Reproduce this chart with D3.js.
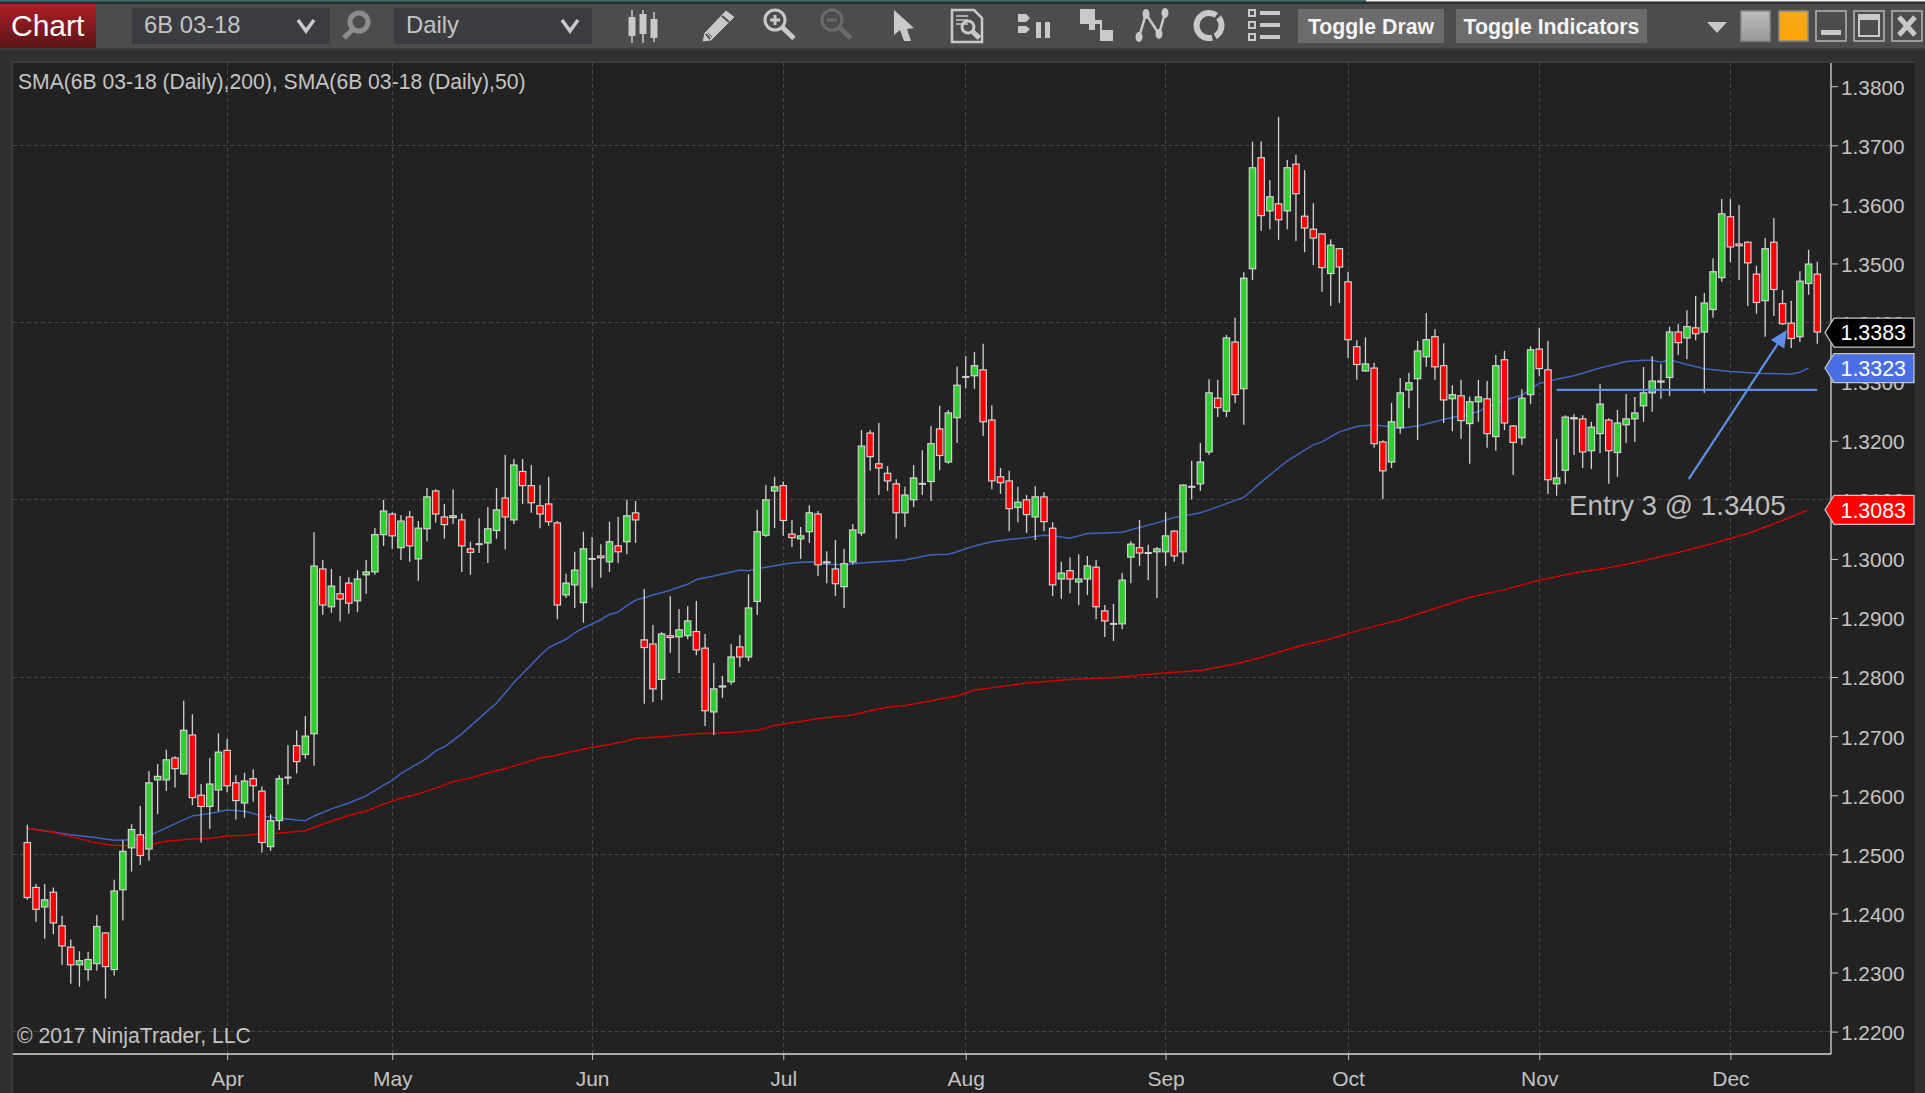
<!DOCTYPE html>
<html><head><meta charset="utf-8">
<style>html,body{margin:0;padding:0;background:#2f2f31;overflow:hidden}svg{display:block}text{font-family:"Liberation Sans",Arial,sans-serif}</style>
<script src="https://cdn.jsdelivr.net/npm/d3@7"></script>
</head><body><svg id="c" width="1925" height="1093"></svg>
<script>
const opens=[1.2521,1.2445,1.2410,1.2437,1.2380,1.2344,1.2312,1.2304,1.2314,1.2368,1.2304,1.2439,1.2510,1.2534,1.2508,1.2625,1.2625,1.2664,1.2635,1.2703,1.2601,1.2580,1.2608,1.2677,1.2622,1.2586,1.2629,1.2608,1.2512,1.2556,1.2630,1.2685,1.2668,1.2703,
1.2984,1.2918,1.2942,1.2960,1.2928,1.2972,1.2977,1.3040,1.3077,1.3018,1.3072,1.2999,1.3050,1.3116,1.3072,1.3069,1.3067,1.3018,1.3025,1.3026,1.3047,1.3104,1.3065,1.3149,1.3125,1.3091,1.3094,1.3062,1.2938,1.2955,1.2925,1.3000,1.3006,1.2994,1.3023,1.3028,1.3079,
1.2864,1.2857,1.2795,1.2871,1.2867,1.2869,1.2878,1.2850,1.2740,1.2786,1.2791,1.2852,1.2833,1.2927,1.3039,1.3114,1.3125,1.3043,1.3033,1.3045,1.3077,1.2996,1.2984,1.2952,1.2994,1.3043,
1.3214,1.3162,1.3146,1.3128,1.3077,1.3099,1.3127,1.3130,1.3221,1.3163,1.3238,1.3308,1.3309,1.3321,1.3236,1.3140,1.3133,1.3086,1.3101,1.3070,1.3106,1.3053,1.2965,1.2981,1.2960,1.2965,1.2987,1.2913,1.2890,1.2889,1.3002,1.3020,1.3010,1.3011,1.3011,1.3048,1.3011,1.3122,
1.3126,1.3180,1.3273,1.3249,1.3368,1.3287,1.3490,1.3680,1.3588,1.3602,1.3588,1.3669,1.3581,1.3559,1.3551,1.3482,1.3526,1.3470,1.3360,1.3317,1.3324,1.3199,1.3163,1.3221,1.3285,1.3304,1.3341,
1.3377,1.3328,1.3270,1.3277,1.3228,1.3265,1.3272,1.3206,1.3338,1.3226,1.3204,1.3277,1.3356,1.3321,1.3126,1.3149,1.3240,1.3238,1.3182,1.3211,1.3236,1.3179,1.3226,1.3236,1.3258,1.3280,
1.3302,1.3306,1.3385,1.3373,1.3392,1.3383,1.3421,1.3475,1.3580,1.3534,1.3537,1.3483,1.3436,1.3537,1.3433,1.3400,1.3375,1.3465,1.3483];
const highs=[1.2550,1.2450,1.2450,1.2444,1.2396,1.2356,1.2336,1.2335,1.2397,1.2368,1.2457,1.2524,1.2551,1.2582,1.2641,1.2653,1.2677,1.2666,1.2760,1.2737,1.2619,1.2663,1.2705,1.2695,1.2634,1.2638,1.2644,1.2615,1.2568,1.2634,1.2685,1.2710,1.2734,1.3045,
1.2998,1.2983,1.2971,1.2969,1.2981,1.2998,1.3052,1.3100,1.3079,1.3074,1.3081,1.3064,1.3120,1.3118,1.3093,1.3118,1.3077,1.3029,1.3069,1.3088,1.3120,1.3176,1.3169,1.3169,1.3159,1.3125,1.3139,1.3064,1.2975,1.3012,1.3046,1.3037,1.3025,1.3063,1.3071,1.3100,1.3098,
1.2949,1.2888,1.2876,1.2937,1.2915,1.2920,1.2929,1.2873,1.2824,1.2802,1.2856,1.2871,1.2974,1.3083,1.3125,1.3139,1.3131,1.3066,1.3054,1.3091,1.3081,1.3013,1.3032,1.3017,1.3059,1.3218,
1.3218,1.3230,1.3157,1.3135,1.3122,1.3159,1.3184,1.3225,1.3259,1.3252,1.3325,1.3343,1.3350,1.3364,1.3260,1.3154,1.3149,1.3122,1.3108,1.3123,1.3113,1.3062,1.2995,1.3003,1.3008,1.3005,1.2998,1.2922,1.2924,1.2976,1.3030,1.3066,1.3024,1.3020,1.3079,1.3048,1.3126,1.3166,
1.3196,1.3304,1.3303,1.3379,1.3408,1.3485,1.3706,1.3707,1.3641,1.3748,1.3675,1.3684,1.3658,1.3602,1.3551,1.3541,1.3526,1.3486,1.3370,1.3375,1.3332,1.3201,1.3264,1.3306,1.3315,1.3369,1.3416,
1.3389,1.3365,1.3294,1.3303,1.3275,1.3303,1.3301,1.3345,1.3352,1.3226,1.3287,1.3360,1.3391,1.3369,1.3203,1.3243,1.3245,1.3243,1.3232,1.3296,1.3238,1.3252,1.3279,1.3274,1.3325,1.3343,
1.3330,1.3393,1.3398,1.3421,1.3445,1.3450,1.3509,1.3609,1.3609,1.3599,1.3537,1.3496,1.3543,1.3577,1.3455,1.3437,1.3487,1.3523,1.3503];
const lows=[1.2423,1.2386,1.2357,1.2365,1.2313,1.2281,1.2276,1.2286,1.2303,1.2256,1.2295,1.2388,1.2471,1.2482,1.2489,1.2568,1.2607,1.2613,1.2635,1.2583,1.2520,1.2543,1.2573,1.2605,1.2559,1.2562,1.2589,1.2503,1.2506,1.2541,1.2618,1.2637,1.2662,1.2650,
1.2905,1.2909,1.2894,1.2907,1.2910,1.2941,1.2973,1.3022,1.3017,1.2998,1.2995,1.2963,1.3030,1.3061,1.3034,1.3059,1.2978,1.2973,1.3010,1.2993,1.3034,1.3016,1.3059,1.3093,1.3078,1.3052,1.3056,1.2898,1.2934,1.2917,1.2892,1.2951,1.2968,1.2978,1.2993,1.3008,1.3027,
1.2755,1.2758,1.2761,1.2841,1.2807,1.2864,1.2837,1.2717,1.2702,1.2765,1.2787,1.2817,1.2827,1.2905,1.3037,1.3052,1.3039,1.3020,1.3000,1.3027,1.2971,1.2959,1.2937,1.2917,1.2991,1.3039,
1.3149,1.3108,1.3115,1.3034,1.3054,1.3088,1.3108,1.3098,1.3150,1.3161,1.3196,1.3289,1.3288,1.3208,1.3118,1.3110,1.3047,1.3062,1.3044,1.3032,1.3047,1.2937,1.2932,1.2942,1.2922,1.2939,1.2898,1.2868,1.2861,1.2881,1.2959,1.2988,1.2964,1.2934,1.2988,1.2995,1.2991,1.3101,
1.3115,1.3176,1.3240,1.3240,1.3264,1.3227,1.3472,1.3555,1.3558,1.3540,1.3558,1.3538,1.3519,1.3497,1.3452,1.3428,1.3433,1.3340,1.3303,1.3317,1.3188,1.3101,1.3154,1.3212,1.3255,1.3201,1.3325,
1.3303,1.3230,1.3216,1.3203,1.3161,1.3232,1.3188,1.3183,1.3218,1.3142,1.3193,1.3262,1.3309,1.3110,1.3107,1.3127,1.3176,1.3154,1.3152,1.3179,1.3127,1.3139,1.3196,1.3198,1.3232,1.3249,
1.3271,1.3276,1.3345,1.3338,1.3370,1.3281,1.3408,1.3469,1.3502,1.3472,1.3428,1.3415,1.3376,1.3411,1.3396,1.3357,1.3367,1.3447,1.3364];
const closes=[1.2426,1.2406,1.2424,1.2383,1.2344,1.2312,1.2321,1.2323,1.2379,1.2309,1.2439,1.2506,1.2543,1.2497,1.2622,1.2633,1.2661,1.2644,1.2711,1.2595,1.2580,1.2620,1.2674,1.2615,1.2590,1.2625,1.2615,1.2519,1.2558,1.2629,1.2630,1.2656,1.2701,1.2989,
1.2921,1.2955,1.2931,1.2924,1.2967,1.2979,1.3042,1.3082,1.3038,1.3065,1.3021,1.3053,1.3106,1.3075,1.3057,1.3074,1.3021,1.3010,1.3025,1.3052,1.3084,1.3070,1.3160,1.3123,1.3094,1.3075,1.3062,1.2921,1.2960,1.2982,1.3018,1.3000,1.3001,1.3030,1.3011,1.3074,1.3065,
1.2849,1.2779,1.2874,1.2866,1.2881,1.2896,1.2845,1.2742,1.2781,1.2783,1.2835,1.2833,1.2918,1.3047,1.3101,1.3123,1.3064,1.3035,1.3040,1.3079,1.2989,1.2993,1.2957,1.2993,1.3050,1.3192,
1.3172,1.3153,1.3131,1.3077,1.3109,1.3138,1.3127,1.3196,1.3174,1.3248,1.3295,1.3308,1.3328,1.3231,1.3131,1.3128,1.3084,1.3097,1.3074,1.3106,1.3062,1.2955,1.2977,1.2965,1.2967,1.2989,1.2918,1.2894,1.2890,1.2965,1.3026,1.3009,1.3010,1.3018,1.3040,1.3004,1.3126,1.3122,
1.3165,1.3282,1.3255,1.3375,1.3277,1.3476,1.3663,1.3580,1.3614,1.3573,1.3663,1.3617,1.3559,1.3542,1.3492,1.3532,1.3493,1.3370,1.3328,1.3331,1.3194,1.3148,1.3233,1.3282,1.3299,1.3353,1.3372,
1.3324,1.3268,1.3279,1.3233,1.3267,1.3275,1.3211,1.3328,1.3229,1.3196,1.3273,1.3355,1.3321,1.3133,1.3138,1.3241,1.3236,1.3180,1.3224,1.3263,1.3182,1.3231,1.3238,1.3248,1.3282,1.3302,
1.3299,1.3385,1.3365,1.3394,1.3380,1.3434,1.3487,1.3585,1.3527,1.3529,1.3500,1.3433,1.3526,1.3455,1.3397,1.3372,1.3471,1.3500,1.3383];

const sma50Idx=[0,5,8,10,13,15,19,21,23,25,27,29,31,32,33,35,37,39,41,42,43,45,46,47,48,50,52,54,55,56,57,58,59,60,62,63,64,66,67,68,69,70,72,74,76,77,79,82,83,85,87,88,90,92,94,96,99,101,102,104,106,107,109,111,113,115,117,118,120,122,124,126,128,130,132,134,135,136,140,142,145,148,149,151,153,155,158,160,163,167,168,170,172,174,176,178,181,184,186,187,188,189,191,193,196,199,203,204,205];
const sma50=[1.2544,1.2533,1.2528,1.2524,1.2525,1.2538,1.2565,1.2569,1.2575,1.2573,1.2565,1.2561,1.2558,1.2557,1.2565,1.2577,1.2587,1.2599,1.2617,1.2625,1.2637,1.2654,1.2663,1.2675,1.2682,1.2704,1.2730,1.2756,1.2773,1.2791,1.2806,1.2821,1.2836,1.2850,1.2864,1.2875,1.2883,1.2897,1.2906,1.2910,1.2921,1.2930,1.2939,1.2947,1.2957,1.2965,1.2971,1.2981,1.2980,1.2986,1.2991,1.2993,1.2995,1.2991,1.2990,1.2993,1.2996,1.2998,1.3001,1.3007,1.3008,1.3012,1.3022,1.3029,1.3033,1.3036,1.3040,1.3039,1.3035,1.3043,1.3044,1.3045,1.3053,1.3061,1.3070,1.3075,1.3078,1.3083,1.3104,1.3130,1.3166,1.3193,1.3198,1.3215,1.3224,1.3227,1.3221,1.3225,1.3236,1.3249,1.3258,1.3269,1.3277,1.3297,1.3304,1.3310,1.3323,1.3334,1.3336,1.3336,1.3333,1.3337,1.3329,1.3322,1.3317,1.3314,1.3313,1.3316,1.3323];
const sma200Idx=[0,3,5,8,10,12,14,16,19,21,23,25,27,29,32,34,36,38,39,41,43,45,47,49,51,53,55,57,59,61,63,65,67,69,70,73,77,81,84,86,89,91,95,97,99,101,103,105,107,109,115,120,125,130,135,139,142,146,150,154,158,162,166,170,174,178,182,186,190,194,198,202,205];
const sma200=[1.2544,1.2537,1.2530,1.2519,1.2515,1.2515,1.2516,1.2522,1.2526,1.2527,1.2531,1.2532,1.2535,1.2536,1.2540,1.2551,1.2561,1.2570,1.2573,1.2585,1.2595,1.2602,1.2612,1.2623,1.2629,1.2638,1.2645,1.2654,1.2663,1.2668,1.2675,1.2681,1.2686,1.2692,1.2696,1.2699,1.2704,1.2706,1.2710,1.2718,1.2725,1.2730,1.2736,1.2743,1.2749,1.2752,1.2757,1.2763,1.2768,1.2778,1.2790,1.2796,1.2799,1.2806,1.2811,1.2822,1.2833,1.2851,1.2865,1.2882,1.2897,1.2916,1.2935,1.2948,1.2964,1.2976,1.2985,1.2997,1.3011,1.3026,1.3043,1.3065,1.3083];

const monthIdx=[23,42,65,87,108,131,152,174,196];
const monthLabels=["Apr","May","Jun","Jul","Aug","Sep","Oct","Nov","Dec"];
const priceTicks=[1.22,1.23,1.24,1.25,1.26,1.27,1.28,1.29,1.30,1.31,1.32,1.33,1.34,1.35,1.36,1.37,1.38];
const gridPrices=[1.22,1.25,1.28,1.31,1.34,1.37];
const priceTags=[{v:1.3383,fill:"#000000"},{v:1.3323,fill:"#4a6fe3"},{v:1.3083,fill:"#ff0000"}];
const entryLine={from:176,to:206,price:1.3286};
const arrow={fromIdx:191.2,fromPrice:1.3135,toIdx:202.5,toPrice:1.33874};
const legendText="SMA(6B 03-18 (Daily),200), SMA(6B 03-18 (Daily),50)";
const copyright="© 2017 NinjaTrader, LLC";
const entryLabel="Entry 3 @ 1.3405";

const svg=d3.select("#c");
const PL=13,PR=1831,PT=63,PB=1054;
const x=d3.scaleLinear().domain([0,206]).range([27.3,1817.3]);
const y=d3.scaleLinear().domain([1.22,1.38]).range([1031.6,86.2]);
const TXT="#c4c4c4",ICON="#c9c9c9";

// ---------- page frame
const defs=svg.append("defs");
const g1=defs.append("linearGradient").attr("id","chartBtn").attr("x1",0).attr("x2",0).attr("y1",0).attr("y2",1);
g1.append("stop").attr("offset",0).attr("stop-color","#ad1f26");
g1.append("stop").attr("offset",1).attr("stop-color","#5a1417");
const g2=defs.append("linearGradient").attr("id","greyBtn").attr("x1",0).attr("x2",0).attr("y1",0).attr("y2",1);
g2.append("stop").attr("offset",0).attr("stop-color","#bdbdbd");
g2.append("stop").attr("offset",1).attr("stop-color","#9a9a9a");
const g3=defs.append("linearGradient").attr("id","orangeBtn").attr("x1",0).attr("x2",0).attr("y1",0).attr("y2",1);
g3.append("stop").attr("offset",0).attr("stop-color","#f2a91e");
g3.append("stop").attr("offset",1).attr("stop-color","#ffa500");

svg.append("rect").attr("width",1925).attr("height",1093).attr("fill","#2f2f31");
svg.append("rect").attr("width",1925).attr("height",4).attr("fill","#2b2f33");
svg.append("rect").attr("x",0).attr("y",0).attr("width",1366).attr("height",1.5).attr("fill","#3f6e74");
svg.append("rect").attr("x",1366).attr("y",0).attr("width",559).attr("height",1.5).attr("fill","#f0f0f0");
svg.append("rect").attr("y",4).attr("width",1925).attr("height",44).attr("fill","#4c4c4c");
svg.append("rect").attr("y",48).attr("width",1925).attr("height",2).attr("fill","#3a3a3a");
svg.append("rect").attr("x",PL-2).attr("y",PT-2).attr("width",1915-PL+2).attr("height",1093-PT+2).attr("fill","#3b3b3e");
svg.append("rect").attr("x",PL).attr("y",PT).attr("width",1915-PL).attr("height",1093-PT).attr("fill","#222222");

// ---------- toolbar
svg.append("rect").attr("x",0).attr("y",4).attr("width",96).attr("height",44).attr("fill","url(#chartBtn)");
svg.append("text").attr("x",11).attr("y",36).attr("font-size",30).attr("fill","#fff").text("Chart");
function dropdown(x0,x1,label,cx){
  svg.append("rect").attr("x",x0).attr("y",8).attr("width",x1-x0).attr("height",36).attr("fill","#3b3b42");
  svg.append("text").attr("x",x0+12).attr("y",33).attr("font-size",23.8).attr("fill",TXT).text(label);
  svg.append("path").attr("d",`M${cx-8} 20 L${cx} 31 L${cx+8} 20`).attr("fill","none").attr("stroke",ICON).attr("stroke-width",3.5);
}
dropdown(132,330,"6B 03-18",306);
dropdown(394,592,"Daily",570);
function magnifier(cx,cy,r,col,sign){
  const g=svg.append("g").attr("fill","none").attr("stroke",col);
  g.append("circle").attr("cx",cx).attr("cy",cy).attr("r",r).attr("stroke-width",3);
  g.append("line").attr("x1",cx+r*.7).attr("y1",cy+r*.7).attr("x2",cx+r*1.9).attr("y2",cy+r*1.85).attr("stroke-width",5);
  if(sign){g.append("path").attr("d",sign==="+"?`M${cx-5} ${cy}H${cx+5}M${cx} ${cy-5}V${cy+5}`:`M${cx-5} ${cy}H${cx+5}`).attr("stroke-width",3);}
}
(function(){
  const g=svg.append("g");
  g.append("circle").attr("cx",359).attr("cy",22).attr("r",9).attr("fill","none").attr("stroke","#8c8c8c").attr("stroke-width",5);
  g.append("line").attr("x1",353).attr("y1",29).attr("x2",344).attr("y2",38).attr("stroke","#8c8c8c").attr("stroke-width",5);
})();
// candlestick icon
[[632,10,43,17,36],[643,10,43,14,34],[654,12,42,19,38]].forEach(d=>{
  svg.append("line").attr("x1",d[0]).attr("x2",d[0]).attr("y1",d[1]).attr("y2",d[2]).attr("stroke",ICON).attr("stroke-width",1.5);
  svg.append("rect").attr("x",d[0]-3.5).attr("y",d[3]).attr("width",7).attr("height",d[4]-d[3]).attr("fill",ICON);
});
// pencil
svg.append("path").attr("d","M726 10 L735 17 L711 41 L702 42 L704 33 Z M708 33 L712 37").attr("fill",ICON).attr("stroke","#4c4c4c").attr("stroke-width",1);
svg.append("path").attr("d","M722 16 L729 22 M706 34 L710 39").attr("stroke","#4c4c4c").attr("stroke-width",2);
magnifier(775,20,10,ICON,"+");
magnifier(832,20,10,"#6a6a6a","-");
svg.append("path").attr("d","M894 10 L914 28 L907 29 L911 41 L904 41 L900 30 L894 35 Z").attr("fill",ICON);
// data box
svg.append("path").attr("d","M952 10 H974 L982 18 V42 H952 Z").attr("fill","none").attr("stroke",ICON).attr("stroke-width",2.5);
[16,20,24].forEach(v=>svg.append("line").attr("x1",956).attr("x2",968).attr("y1",v).attr("y2",v).attr("stroke",ICON).attr("stroke-width",1.5));
magnifier(968,27,6,ICON,null);
// pause-like icon
svg.append("path").attr("d","M1018 14 H1026 L1030 18 L1026 22 H1018 Z M1018 26 H1026 L1030 29 L1026 33 H1018 Z").attr("fill",ICON);
svg.append("rect").attr("x",1036).attr("y",22).attr("width",5).attr("height",16).attr("fill",ICON);
svg.append("rect").attr("x",1045).attr("y",22).attr("width",5).attr("height",16).attr("fill",ICON);
// overlap squares
svg.append("rect").attr("x",1080).attr("y",9).attr("width",15).attr("height",15).attr("fill",ICON);
svg.append("rect").attr("x",1089).attr("y",20).attr("width",13).attr("height",10).attr("fill",ICON);
svg.append("rect").attr("x",1100).attr("y",30).attr("width",13).attr("height",11).attr("fill",ICON);
svg.append("rect").attr("x",1095).attr("y",24).attr("width",5).attr("height",6).attr("fill","#4c4c4c");
// node line
svg.append("path").attr("d","M1139 37 L1146 14 L1159 34 L1165 13").attr("fill","none").attr("stroke",ICON).attr("stroke-width",2.5);
[[1139,37],[1146,14],[1159,34],[1165,13]].forEach(p=>svg.append("ellipse").attr("cx",p[0]).attr("cy",p[1]).attr("rx",3.5).attr("ry",5).attr("fill",ICON));
// refresh ring: two thick arcs with small gaps on the right
svg.append("circle").attr("cx",1209).attr("cy",25.5).attr("r",12.5).attr("fill","none").attr("stroke",ICON).attr("stroke-width",6).attr("stroke-dasharray","22 3 50 3.5").attr("transform","rotate(-40 1209 25.5)");
// list icon
[13,25,37].forEach(v=>{
  svg.append("rect").attr("x",1249).attr("y",v-3).attr("width",6).attr("height",6).attr("fill","none").attr("stroke",ICON).attr("stroke-width",2);
  svg.append("rect").attr("x",1260).attr("y",v-2).attr("width",20).attr("height",4).attr("fill",ICON);
});
function btn(x0,x1,label){
  svg.append("rect").attr("x",x0).attr("y",9).attr("width",x1-x0).attr("height",34).attr("fill","#6b6b6b");
  svg.append("text").attr("x",(x0+x1)/2).attr("y",34).attr("text-anchor","middle").attr("font-size",21.3).attr("font-weight","bold").attr("fill","#f4f4f4").text(label);
}
btn(1298,1444,"Toggle Draw");
btn(1456,1647,"Toggle Indicators");
svg.append("path").attr("d","M1707 22 H1727 L1717 33 Z").attr("fill",ICON);
svg.append("rect").attr("x",1741).attr("y",11).attr("width",29).attr("height",30).attr("fill","url(#greyBtn)").attr("stroke","#8a8a8a").attr("stroke-width",1.5);
svg.append("rect").attr("x",1779).attr("y",11).attr("width",29).attr("height",30).attr("fill","url(#orangeBtn)").attr("stroke","#8a8a8a").attr("stroke-width",1.5);
[1816,1854,1892].forEach(v=>svg.append("rect").attr("x",v).attr("y",11).attr("width",30).attr("height",30).attr("fill","none").attr("stroke","#b5b5b5").attr("stroke-width",1.5));
svg.append("rect").attr("x",1821).attr("y",30).attr("width",20).attr("height",5).attr("fill",ICON);
svg.append("rect").attr("x",1859).attr("y",15).attr("width",20).attr("height",21).attr("fill","none").attr("stroke",ICON).attr("stroke-width",2);
svg.append("rect").attr("x",1859).attr("y",15).attr("width",20).attr("height",5).attr("fill",ICON);
svg.append("path").attr("d","M1899 17 L1915 35 M1915 17 L1899 35").attr("stroke",ICON).attr("stroke-width",5);

// ---------- grid
const grid=svg.append("g").attr("stroke","#474747").attr("stroke-width",1).attr("stroke-dasharray","4 3").attr("shape-rendering","crispEdges");
grid.selectAll(".h").data(gridPrices).join("line").attr("x1",PL).attr("x2",PR).attr("y1",d=>y(d)).attr("y2",d=>y(d));
grid.selectAll(".v").data(monthIdx).join("line").attr("x1",d=>x(d)).attr("x2",d=>x(d)).attr("y1",PT).attr("y2",PB);

// ---------- moving averages (under the candles)
const ln=idx=>d3.line().x((d,i)=>x(idx[i])).y(d=>y(d));
svg.append("path").attr("d",ln(sma50Idx)(sma50)).attr("fill","none").attr("stroke","#3f63bf").attr("stroke-width",1.5);
svg.append("path").attr("d",ln(sma200Idx)(sma200)).attr("fill","none").attr("stroke","#d00000").attr("stroke-width",1.5);

// ---------- candles
const W="#d2d2d2",BW=6.4;
const cs=svg.append("g");
opens.forEach((o,i)=>{
  const c=closes[i],cx=x(i);
  cs.append("line").attr("x1",cx).attr("x2",cx).attr("y1",y(highs[i])).attr("y2",y(lows[i])).attr("stroke",W).attr("stroke-width",1.3);
  if(o===c){
    cs.append("rect").attr("x",cx-3.6).attr("y",y(o)-1).attr("width",7.2).attr("height",2).attr("fill",W);
  }else{
    const t=y(Math.max(o,c)),b=y(Math.min(o,c));
    cs.append("rect").attr("x",cx-BW/2).attr("y",t+.6).attr("width",BW).attr("height",Math.max(1,b-t-1.2))
      .attr("fill",c>o?"#32cd32":"#ff0000").attr("stroke",W).attr("stroke-width",1.2);
  }
});

// ---------- axes
const yAxis=d3.axisRight(y).tickValues(priceTicks).tickFormat(d3.format(".4f")).tickSize(7).tickPadding(3);
const ya=svg.append("g").attr("transform",`translate(${PR},0)`).call(yAxis);
ya.select(".domain").remove();
ya.append("line").attr("x1",0).attr("x2",0).attr("y1",PT).attr("y2",PB).attr("stroke","#d8d8d8").attr("stroke-width",1.3);
ya.selectAll(".tick line").attr("stroke","#c8c8c8").attr("stroke-width",1);
ya.selectAll(".tick text").attr("font-size",20.8).attr("dy","0.38em").attr("fill",TXT).attr("font-family",'"Liberation Sans",Arial,sans-serif');
const xAxis=d3.axisBottom(x).tickValues(monthIdx).tickFormat((d,i)=>monthLabels[i]).tickSize(6).tickPadding(11);
const xa=svg.append("g").attr("transform",`translate(0,${PB})`).call(xAxis);
xa.select(".domain").remove();
xa.append("line").attr("x1",PL).attr("x2",PR).attr("y1",0).attr("y2",0).attr("stroke","#d8d8d8").attr("stroke-width",1.3);
xa.selectAll(".tick line").attr("stroke","#c8c8c8").attr("stroke-width",1);
xa.selectAll(".tick text").attr("font-size",21).attr("fill",TXT).attr("font-family",'"Liberation Sans",Arial,sans-serif');

// ---------- drawing objects
svg.append("line").attr("x1",x(entryLine.from)).attr("x2",x(entryLine.to)).attr("y1",y(entryLine.price)).attr("y2",y(entryLine.price)).attr("stroke","#5f8fe6").attr("stroke-width",2.4);
const ax0=x(arrow.fromIdx),ay0=y(arrow.fromPrice),ax1=x(arrow.toIdx),ay1=y(arrow.toPrice);
const ang=Math.atan2(ay1-ay0,ax1-ax0),L=17,S=8;
const bx=ax1-L*Math.cos(ang),by=ay1-L*Math.sin(ang);
svg.append("line").attr("x1",ax0).attr("y1",ay0).attr("x2",bx).attr("y2",by).attr("stroke","#5f8fe6").attr("stroke-width",2.2);
svg.append("path").attr("d",`M${ax1} ${ay1} L${bx-S*Math.sin(ang)} ${by+S*Math.cos(ang)} L${bx+S*Math.sin(ang)} ${by-S*Math.cos(ang)} Z`).attr("fill","#5f8fe6");
svg.append("text").attr("x",1569).attr("y",515).attr("font-size",27.8).attr("fill","#bdbdbd").text(entryLabel);
svg.append("text").attr("x",18).attr("y",89).attr("font-size",21.15).attr("fill",TXT).text(legendText);
svg.append("text").attr("x",17).attr("y",1043).attr("font-size",21.2).attr("fill",TXT).text(copyright);

// ---------- price tags
priceTags.forEach(t=>{
  const c=y(t.v),h=14.5;
  svg.append("path").attr("d",`M1825 ${c} L1834 ${c-h} H1914 V${c+h} H1834 Z`).attr("fill",t.fill).attr("stroke","#c4c4c4").attr("stroke-width",1.3);
  svg.append("text").attr("x",1840.5).attr("y",c+7.8).attr("font-size",21.4).attr("fill","#ffffff").text(d3.format(".4f")(t.v));
});
</script></body></html>
